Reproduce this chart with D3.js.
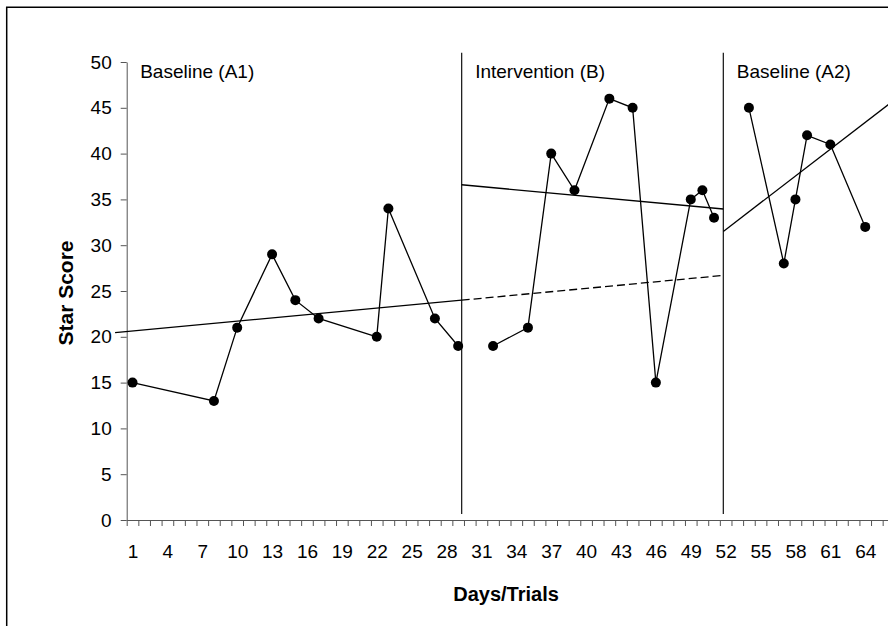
<!DOCTYPE html>
<html>
<head>
<meta charset="utf-8">
<script src="https://cdn.jsdelivr.net/npm/d3@7"></script>
<style>
  body { margin: 0; background: #fff; }
  svg { display: block; font-family: "Liberation Sans", Arial, sans-serif; }
</style>
</head>
<body>
<div id="chart"></div>
<script>
// phase data (day, score)
const baselineA1Days = [1, 8, 10, 13, 15, 17, 22, 23, 27, 29];
const baselineA1Scores = [15, 13, 21, 29, 24, 22, 20, 34, 22, 19];
const interventionDays = [32, 35, 37, 39, 42, 44, 46, 49, 50, 51];
const interventionScores = [19, 21, 40, 36, 46, 45, 15, 35, 36, 33];
const baselineA2Days = [54, 57, 58, 59, 61, 64];
const baselineA2Scores = [45, 28, 35, 42, 41, 32];

const phaseNames = ['Baseline (A1)', 'Intervention (B)', 'Baseline (A2)'];
const phaseStarts = [0.5, 29.3, 51.8];
const phaseBreaks = [29.3, 51.8];

// trend lines as [day, score] end points
const trendA1 = [[-0.5, 20.45], [29.3, 24.0]];
const trendA1Extended = [[29.3, 24.0], [51.8, 26.7]];
const trendB = [[29.3, 36.6], [51.8, 33.95]];
const trendA2 = [[51.8, 31.5], [66.5, 45.85]];

const xTickLabels = d3.range(1, 65, 3);
const yTicks = d3.range(0, 51, 5);

const width = 888, height = 626;

const svg = d3.select('#chart').append('svg')
    .attr('width', width)
    .attr('height', height);

const x = d3.scaleLinear().domain([0.5, 66.5]).range([126.7, 894.3]);
const y = d3.scaleLinear().domain([0, 50]).range([520, 62]);

// outer frame (only top and left edges visible)
svg.append('path')
    .attr('d', `M6.7,${height} V7.3 H${width}`)
    .attr('fill', 'none')
    .attr('stroke', '#000')
    .attr('stroke-width', 1.5);

// y axis
const yAxis = svg.append('g')
    .attr('transform', `translate(${x(0.5)},0)`)
    .call(d3.axisLeft(y).tickValues(yTicks).tickSize(6).tickPadding(9).tickSizeOuter(0));
yAxis.selectAll('text').attr('font-size', 19).attr('fill', '#000');

// x axis: tick marks between days, labels every third day
svg.append('g')
    .attr('transform', `translate(0,${y(0)})`)
    .call(d3.axisBottom(x).tickValues(d3.range(0.5, 67, 1)).tickSize(6).tickFormat('').tickSizeOuter(0));
const xLabels = svg.append('g')
    .attr('transform', `translate(0,${y(0)})`)
    .call(d3.axisBottom(x).tickValues(xTickLabels).tickSize(0).tickPadding(25));
xLabels.select('.domain').remove();
xLabels.selectAll('text').attr('font-size', 19).attr('fill', '#000');

svg.selectAll('.domain, .tick line').attr('stroke', '#555');

// phase change lines
svg.selectAll('.phase-line')
    .data(phaseBreaks)
    .enter().append('line')
    .attr('class', 'phase-line')
    .attr('x1', d => x(d)).attr('x2', d => x(d))
    .attr('y1', y(51)).attr('y2', y(0.65))
    .attr('stroke', '#222')
    .attr('stroke-width', 1.3);

// phase labels
svg.selectAll('.phase-label')
    .data(phaseNames)
    .enter().append('text')
    .attr('class', 'phase-label')
    .attr('x', (d, i) => x(phaseStarts[i]) + 13.5)
    .attr('y', 78)
    .attr('font-size', 19)
    .text(d => d);

const line = d3.line().x(d => x(d[0])).y(d => y(d[1]));

// trend lines
[trendA1, trendB, trendA2].forEach(t => {
    svg.append('path')
        .attr('d', line(t))
        .attr('fill', 'none')
        .attr('stroke', '#000')
        .attr('stroke-width', 1.3);
});
svg.append('path')
    .attr('d', line(trendA1Extended))
    .attr('fill', 'none')
    .attr('stroke', '#000')
    .attr('stroke-width', 1.3)
    .attr('stroke-dasharray', '8,4');

// data series, one per phase
const phases = [
    d3.zip(baselineA1Days, baselineA1Scores),
    d3.zip(interventionDays, interventionScores),
    d3.zip(baselineA2Days, baselineA2Scores)
];

phases.forEach(pts => {
    svg.append('path')
        .attr('d', line(pts))
        .attr('fill', 'none')
        .attr('stroke', '#000')
        .attr('stroke-width', 1.3);
    svg.append('g').selectAll('circle')
        .data(pts)
        .enter().append('circle')
        .attr('cx', d => x(d[0]))
        .attr('cy', d => y(d[1]))
        .attr('r', 5)
        .attr('fill', '#000');
});

// axis titles
svg.append('text')
    .attr('x', 506)
    .attr('y', 601)
    .attr('text-anchor', 'middle')
    .attr('font-size', 20)
    .attr('font-weight', 'bold')
    .text('Days/Trials');

svg.append('text')
    .attr('transform', 'translate(73,293) rotate(-90)')
    .attr('text-anchor', 'middle')
    .attr('font-size', 21)
    .attr('font-weight', 'bold')
    .text('Star Score');
</script>
</body>
</html>
